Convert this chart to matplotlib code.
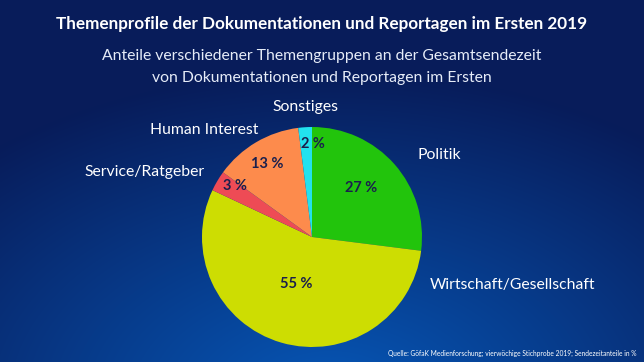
import numpy as np
from matplotlib import pyplot as plt

# Daten
kategorien = ['Politik', 'Wirtschaft/Gesellschaft', 'Service/Ratgeber', 'Human Interest', 'Sonstiges']
anteile = [27, 55, 3, 13, 2]
farben = ['#22c40c', '#cddd02', '#ee4b55', '#fd8b4c', '#22e2ee']

W, H = 644, 362
fig = plt.figure(figsize=(W / 100, H / 100), dpi=100)

# Hintergrund: blauer Verlauf, unten Mitte heller
bg = fig.add_axes([0, 0, 1, 1])
yy, xx = np.mgrid[0:H, 0:W]
d = np.sqrt(((xx - 330) / 520.0) ** 2 + ((yy - 400) / 330.0) ** 2)
t = np.clip(d, 0, 1)
c1 = np.array([0x06, 0x58, 0xb8]) / 255
c2 = np.array([0x08, 0x1c, 0x5a]) / 255
img = c1[None, None, :] * (1 - t[..., None]) + c2[None, None, :] * t[..., None]
bg.imshow(img, aspect='auto', extent=[0, W, H, 0])
bg.set_xlim(0, W)
bg.set_ylim(H, 0)
bg.axis('off')

# Kreisdiagramm
cx, cy, r = 312, 237, 110
ax = fig.add_axes([(cx - r) / W, (H - cy - r) / H, 2 * r / W, 2 * r / H])
ax.pie(anteile, colors=farben, startangle=90, counterclock=False, radius=1)
ax.set_xlim(-1, 1)
ax.set_ylim(-1, 1)
ax.set_aspect('auto')
ax.axis('off')

pct_pos = [(0.45, 0.45), (-0.14, -0.43), (-0.70, 0.46), (-0.41, 0.66), (0.01, 0.85)]
for v, (x, y) in zip(anteile, pct_pos):
    ax.text(x, y, f'{v} %', ha='center', va='center', fontsize=10.5, fontweight='bold',
            color='#1a1f4c', family='Lato')

# Kategorienamen (Pixelkoordinaten im Hintergrund)
lab_pos = [(418, 155, 'left'), (430, 285, 'left'), (205, 172, 'right'),
           (258, 130, 'right'), (305, 107, 'center')]
for name, (x, y, ha) in zip(kategorien, lab_pos):
    bg.text(x, y, name, ha=ha, va='center', fontsize=11.3, color='white', family='Lato')

bg.text(322, 24, 'Themenprofile der Dokumentationen und Reportagen im Ersten 2019',
        ha='center', va='center', fontsize=12.3, fontweight='bold', color='white', family='Lato')
bg.text(322, 56, 'Anteile verschiedener Themengruppen an der Gesamtsendezeit',
        ha='center', va='center', fontsize=11.3, color='#e6ecf8', family='Lato')
bg.text(322, 78, 'von Dokumentationen und Reportagen im Ersten',
        ha='center', va='center', fontsize=11.3, color='#e6ecf8', family='Lato')
bg.text(637, 353, 'Quelle: GöfaK Medienforschung; vierwöchige Stichprobe 2019; Sendezeitanteile in %',
        ha='right', va='center', fontsize=4.8, color='white', family='Lato')

plt.savefig('out.png', dpi=100)
